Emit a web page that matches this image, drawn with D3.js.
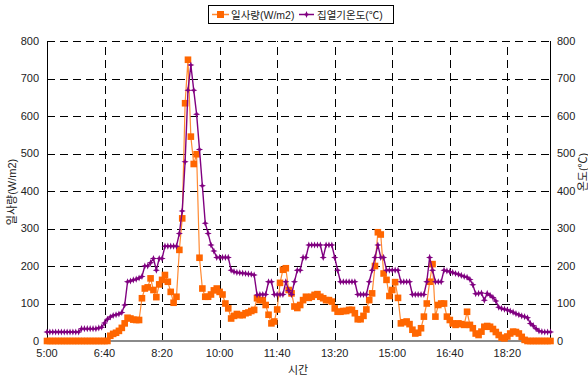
<!DOCTYPE html>
<html>
<head>
<meta charset="utf-8">
<script src="https://cdn.jsdelivr.net/npm/d3@7"></script>
<style>
  body { margin: 0; background: #fff; }
  svg text { font-family: "Liberation Sans", Arial, "Noto Sans CJK KR", sans-serif; fill: #222; }
</style>
</head>
<body>
<svg id="chart" width="588" height="378"></svg>
<script>
// Logged every 5 minutes starting at 5:00
const startMinute = 5 * 60;
const stepMinutes = 5;

// Solar irradiance (W/m2)
const solar = [
  0,0,0,0,0,0,0,0,0,0,0,0,0,0,0,0,0,0,0,0,0,0,
  14,19,22,27,35,47,62,60,57,56,56,
  114,140,143,167,136,117,151,163,176,158,131,102,118,
  243,327,634,750,545,472,498,222,140,118,118,124,
  135,140,131,124,100,87,60,67,72,69,69,74,76,80,83,
  114,109,109,96,70,47,52,84,155,190,194,136,127,92,
  88,96,109,118,115,118,123,125,118,114,109,109,105,87,78,
  78,80,80,83,83,74,58,58,67,84,109,
  127,200,290,284,180,163,120,136,157,115,
  47,50,52,45,30,20,22,34,65,100,158,205,65,96,
  100,100,65,56,47,43,47,45,43,78,43,34,20,16,
  25,38,40,38,32,24,16,9,7,12,20,25,24,20,11,3,
  0,0,0,0,0,0,0,0,0
];

// Collector temperature (°C), same numeric scale on the right axis
const collectorTemp = [
  24,24,24,24,24,24,24,24,24,24,24,24,
  33,33,33,33,33,33,35,37,
  48,58,64,68,70,72,76,96,
  158,160,163,165,168,
  172,200,200,209,220,189,220,220,253,253,253,253,253,287,
  347,478,669,736,669,605,511,414,314,287,256,
  240,223,223,223,223,223,189,185,183,182,181,180,179,178,176,
  123,124,124,124,158,158,124,124,124,124,158,135,124,158,
  189,189,223,223,256,256,256,256,256,223,256,256,256,223,189,
  158,158,158,158,158,158,124,124,124,124,158,
  189,223,256,223,223,189,189,189,189,189,
  158,158,158,158,124,124,124,124,124,158,223,189,158,158,
  158,189,187,185,183,180,178,175,172,170,164,150,126,127,
  128,109,127,122,116,107,90,87,85,83,80,77,73,70,67,65,
  62,47,41,33,27,25,24,24,24
];

const seriesNames = ["일사량(W/m2)", "집열기온도(℃)"];
const xTickMinutes = [300, 400, 500, 600, 700, 800, 900, 1000, 1100];
const xTickLabels = ["5:00", "6:40", "8:20", "10:00", "11:40", "13:20", "15:00", "16:40", "18:20"];
const yTicks = [0, 100, 200, 300, 400, 500, 600, 700, 800];
const xTitle = "시간";
const yTitleLeft = "일사량(W/m2)";
const yTitleRight = "온도(℃)";

const colors = { solar: "#ff6600", solarLine: "#ff8a33", temp: "#800080" };

const svg = d3.select("#chart");
const plot = { left: 47, right: 550.5, top: 41, bottom: 341 };

const times = solar.map((_, i) => startMinute + i * stepMinutes);
const x = d3.scaleLinear()
  .domain([startMinute, times[times.length - 1]])
  .range([plot.left, plot.right]);
const y = d3.scaleLinear().domain([0, 800]).range([plot.bottom, plot.top]);

// Grid
const grid = svg.append("g");
grid.selectAll("line.h").data(yTicks.filter(d => d > 0)).join("line")
  .attr("x1", plot.left).attr("x2", plot.right)
  .attr("y1", d => Math.round(y(d)) + 0.5).attr("y2", d => Math.round(y(d)) + 0.5)
  .attr("stroke", "#000").attr("stroke-width", 1).attr("stroke-dasharray", "8,5");
grid.selectAll("line.v").data(xTickMinutes.slice(1)).join("line")
  .attr("x1", d => Math.round(x(d)) + 0.5).attr("x2", d => Math.round(x(d)) + 0.5)
  .attr("y1", plot.bottom).attr("y2", plot.top)
  .attr("stroke", "#000").attr("stroke-width", 1).attr("stroke-dasharray", "8,5");

// Axis lines
svg.append("line").attr("x1", plot.left + 0.5).attr("x2", plot.left + 0.5)
  .attr("y1", plot.top).attr("y2", plot.bottom).attr("stroke", "#000");
svg.append("line").attr("x1", plot.right).attr("x2", plot.right)
  .attr("y1", plot.top).attr("y2", plot.bottom).attr("stroke", "#000");
svg.append("line").attr("x1", plot.left).attr("x2", plot.right + 0.5)
  .attr("y1", plot.bottom).attr("y2", plot.bottom).attr("stroke", "#8a8a8a").attr("stroke-width", 2);

// Tick labels
const fs = 11;
svg.append("g").selectAll("text").data(yTicks).join("text")
  .attr("x", 39).attr("y", d => y(d)).attr("dy", "0.35em")
  .attr("text-anchor", "end").attr("font-size", fs).text(d => d);
svg.append("g").selectAll("text").data(yTicks).join("text")
  .attr("x", 557).attr("y", d => y(d)).attr("dy", "0.35em")
  .attr("text-anchor", "start").attr("font-size", fs).text(d => d);
svg.append("g").selectAll("text").data(xTickMinutes).join("text")
  .attr("x", d => x(d)).attr("y", 357)
  .attr("text-anchor", "middle").attr("font-size", fs)
  .text((d, i) => xTickLabels[i]);

// Axis titles
svg.append("text").attr("x", 298).attr("y", 374).attr("text-anchor", "middle")
  .attr("font-size", fs).text(xTitle);
svg.append("text").attr("transform", "translate(16,192) rotate(-90)")
  .attr("text-anchor", "middle").attr("font-size", fs).text(yTitleLeft);
svg.append("text").attr("transform", "translate(587,172) rotate(-90)")
  .attr("text-anchor", "middle").attr("font-size", fs).text(yTitleRight);

// Series
const line = d3.line().x((d, i) => x(times[i])).y(d => y(d));
const starPath = "M0,-3.6L1,-1L3.6,0L1,1L0,3.6L-1,1L-3.6,0L-1,-1Z";

const sG = svg.append("g");
sG.append("path").datum(solar).attr("d", line)
  .attr("fill", "none").attr("stroke", colors.solarLine).attr("stroke-width", 1.2);
sG.selectAll("rect").data(solar).join("rect")
  .attr("x", (d, i) => x(times[i]) - 3.3).attr("y", d => y(d) - 3.3)
  .attr("width", 6.6).attr("height", 6.6).attr("fill", colors.solar);

const tG = svg.append("g");
tG.append("path").datum(collectorTemp).attr("d", line)
  .attr("fill", "none").attr("stroke", colors.temp).attr("stroke-width", 1.4);
tG.selectAll("path.m").data(collectorTemp).join("path").attr("class", "m")
  .attr("d", starPath)
  .attr("transform", (d, i) => `translate(${x(times[i])},${y(d)})`)
  .attr("fill", colors.temp);

// Legend
const lg = svg.append("g");
lg.append("rect").attr("x", 208.5).attr("y", 5.5).attr("width", 185).attr("height", 18)
  .attr("fill", "#fff").attr("stroke", "#000");
lg.append("line").attr("x1", 212).attr("x2", 229).attr("y1", 14.5).attr("y2", 14.5)
  .attr("stroke", colors.solarLine).attr("stroke-width", 1.5);
lg.append("rect").attr("x", 217).attr("y", 11).attr("width", 7).attr("height", 7).attr("fill", colors.solar);
lg.append("text").attr("x", 231).attr("y", 18.5).attr("font-size", 10.5).text(seriesNames[0]);
lg.append("line").attr("x1", 299).attr("x2", 314).attr("y1", 14.5).attr("y2", 14.5)
  .attr("stroke", colors.temp).attr("stroke-width", 1.5);
lg.append("path").attr("d", starPath).attr("transform", "translate(306.5,14.5)").attr("fill", colors.temp);
lg.append("text").attr("x", 317).attr("y", 18.5).attr("font-size", 10.5).text(seriesNames[1]);
</script>
</body>
</html>
